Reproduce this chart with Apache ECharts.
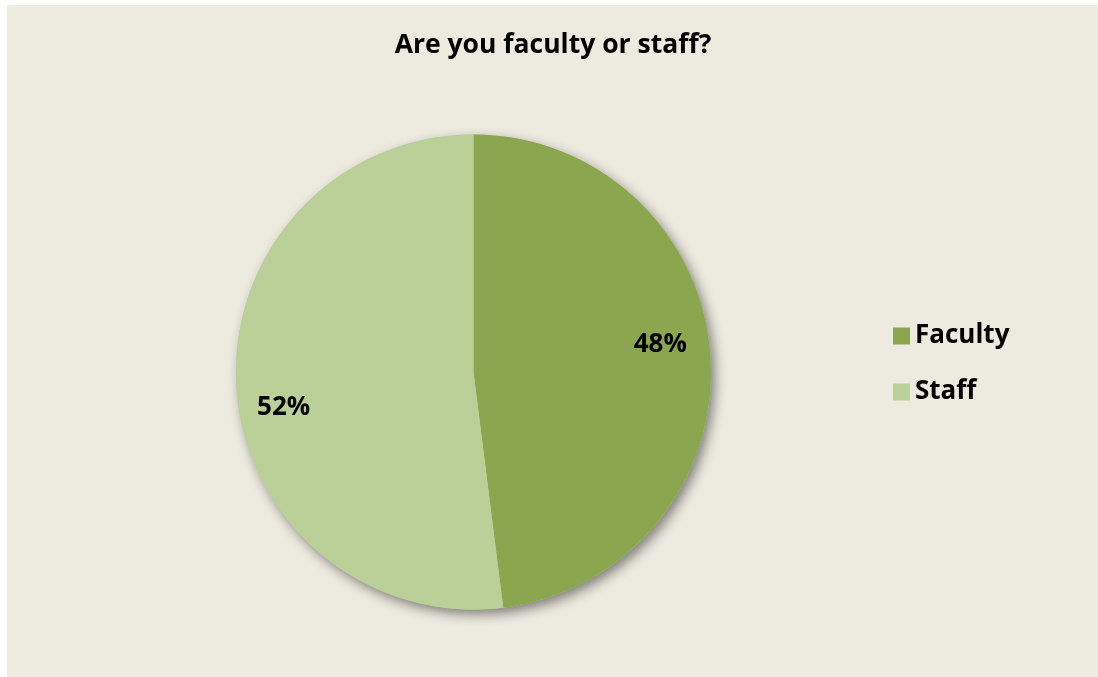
<!DOCTYPE html>
<html><head><meta charset="utf-8">
<script src="https://cdn.jsdelivr.net/npm/echarts@6/dist/echarts.min.js"></script>
<style>
html,body{margin:0;padding:0;background:#ffffff;width:1098px;height:677px;overflow:hidden;}
#chart{position:absolute;left:7px;top:5px;width:1091px;height:672px;background:#EDEBE0;}
</style></head>
<body><div id="chart"></div>
<script>
const titleText = 'Are you faculty or staff?';
const categories = ['Faculty', 'Staff'];
const values = [48, 52];
const colors = ['#8AA64E', '#BBCF98'];

const chart = echarts.init(document.getElementById('chart'), null, {renderer: 'canvas'});
const font = '"Open Sans", "Liberation Sans", sans-serif';
const data = categories.map((c, i) => ({name: c, value: values[i], itemStyle: {color: colors[i]}}));
const cx = 466.5, cy = 367, R = 237.5;

chart.setOption({
  animation: false,
  backgroundColor: 'transparent',
  title: {
    text: titleText, left: 541, top: 22, textAlign: 'center',
    textStyle: {fontFamily: font, fontWeight: 'bold', fontSize: 26.5, color: '#000'}
  },
  legend: {
    data: categories, orient: 'vertical', left: 881, top: 313,
    itemWidth: 17, itemHeight: 17, itemGap: 30, itemTextGap: 8, icon: 'rect',
    textStyle: {fontFamily: font, fontWeight: 'bold', fontSize: 26, color: '#000'}
  },
  series: [
    {
      type: 'pie', name: 'shadow', silent: true, center: [cx, cy], radius: [0, R],
      data: [{name: '_s', value: 1, itemStyle: {color: '#BBCF98'}}],
      label: {show: false}, labelLine: {show: false},
      itemStyle: {shadowBlur: 12, shadowOffsetX: 4, shadowOffsetY: 5, shadowColor: 'rgba(0,0,0,0.45)'},
      z: 1
    },
    {
      type: 'pie', name: 'main', center: [cx, cy], radius: [0, R], startAngle: 90, clockwise: true,
      data: data, label: {show: false}, labelLine: {show: false},
      itemStyle: {borderWidth: 0}, emphasis: {disabled: true}, z: 2
    },
    {
      type: 'pie', name: 'labels', silent: true, center: [cx - 1.5, cy + 4], radius: [0, 376], startAngle: 96,
      data: categories.map((c, i) => ({name: c, value: values[i], itemStyle: {color: 'rgba(0,0,0,0)'}})),
      label: {show: true, position: 'inside', formatter: p => Math.round(p.percent) + '%',
        fontFamily: font, fontWeight: 'bold', fontSize: 26, color: '#000'},
      labelLine: {show: false}, emphasis: {disabled: true}, z: 3
    }
  ]
});
</script></body></html>
